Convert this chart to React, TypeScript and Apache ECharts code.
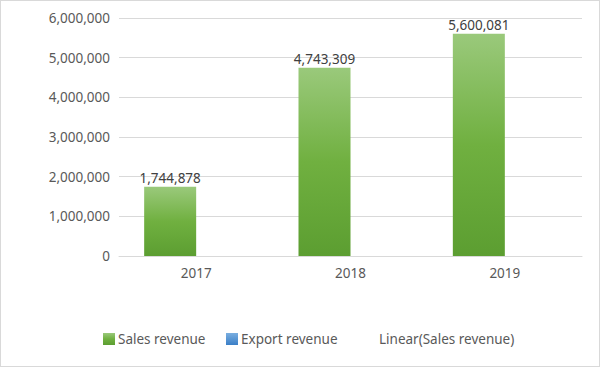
import React, { useEffect, useRef } from "react";
import * as echarts from "echarts";

const years = ["2017", "2018", "2019"];
const salesRevenue = [1744878, 4743309, 5600081];
const exportRevenue = [0, 0, 0];
const yTicks = [0, 1000000, 2000000, 3000000, 4000000, 5000000, 6000000];

const FONT = "Noto Sans";
const FS = 13.5;

export default function App() {
  const ref = useRef<HTMLDivElement>(null);
  useEffect(() => {
    document.body.style.margin = "0";
    const chart = echarts.init(ref.current!, null, { renderer: "svg" });
    const fmt = (v: number) => v.toLocaleString("en-US");
    const legendText = { color: "#595959", fontSize: FS, fontFamily: FONT };
    chart.setOption({
      animation: false,
      backgroundColor: "#ffffff",
      grid: { left: 118, right: 17, top: 17, bottom: 110, containLabel: false },
      legend: [
        {
          data: ["Sales revenue"],
          left: 102,
          top: 331,
          padding: 0,
          itemWidth: 12,
          itemHeight: 12,
          icon: "rect",
          textStyle: { ...legendText, padding: [0, 0, 0, -2] },
        },
        {
          data: ["Export revenue"],
          left: 225,
          top: 331,
          padding: 0,
          itemWidth: 12,
          itemHeight: 12,
          icon: "rect",
          textStyle: { ...legendText, padding: [0, 0, 0, -2] },
        },
        {
          data: [{ name: "Linear(Sales revenue)", icon: "none" }],
          left: 361,
          top: 331,
          padding: 0,
          itemWidth: 12,
          itemHeight: 12,
          textStyle: legendText,
        },
      ],
      xAxis: {
        type: "category",
        data: years,
        axisLine: { show: true, lineStyle: { color: "#d9d9d9", width: 1 } },
        axisTick: { show: false },
        axisLabel: { color: "#595959", fontSize: FS, fontFamily: FONT, margin: 10 },
      },
      yAxis: {
        type: "value",
        min: yTicks[0],
        max: yTicks[yTicks.length - 1],
        interval: 1000000,
        axisLine: { show: false },
        axisTick: { show: false },
        splitLine: { lineStyle: { color: "#d9d9d9", width: 1 } },
        axisLabel: {
          color: "#595959",
          fontSize: FS,
          fontFamily: FONT,
          margin: 9,
          formatter: (v: number) => fmt(v),
        },
      },
      series: [
        {
          name: "Sales revenue",
          type: "bar",
          data: salesRevenue,
          barWidth: 52,
          barGap: "0%",
          itemStyle: {
            color: new echarts.graphic.LinearGradient(0, 0, 0, 1, [
              { offset: 0, color: "#9ac97b" },
              { offset: 0.5, color: "#70b040" },
              { offset: 1, color: "#5c9e31" },
            ]),
          },
          label: {
            show: true,
            position: "top",
            distance: 2,
            color: "#404040",
            fontSize: FS,
            fontFamily: FONT,
            formatter: (p: any) => fmt(p.value),
          },
        },
        {
          name: "Export revenue",
          type: "bar",
          data: exportRevenue,
          barWidth: 52,
          barGap: "0%",
          itemStyle: {
            color: new echarts.graphic.LinearGradient(0, 0, 0, 1, [
              { offset: 0, color: "#7aaee0" },
              { offset: 1, color: "#3a7fc7" },
            ]),
          },
        },
        {
          name: "Linear(Sales revenue)",
          type: "line",
          data: [],
          symbol: "none",
          lineStyle: { opacity: 0 },
        },
      ],
    });
    return () => chart.dispose();
  }, []);
  return (
    <div
      ref={ref}
      style={{ width: 600, height: 367, border: "1px solid #d9d9d9", boxSizing: "border-box" }}
    />
  );
}
